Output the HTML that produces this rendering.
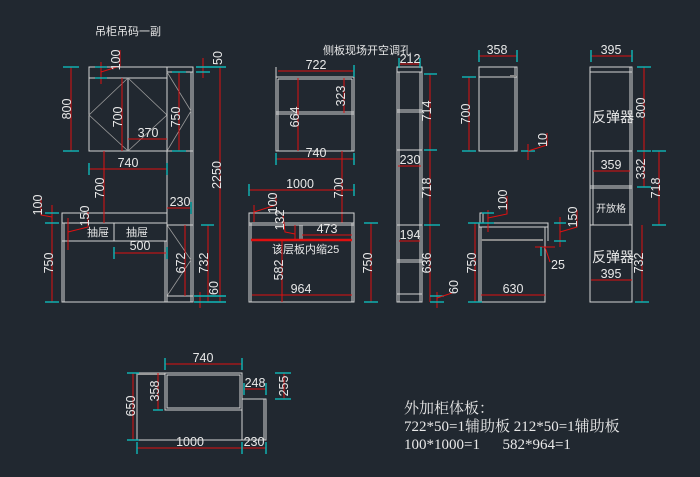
<!DOCTYPE html>
<html><head><meta charset="utf-8"><style>
html,body{margin:0;padding:0;background:#212830;}
svg{display:block}
text{font-family:"Liberation Sans","Noto Sans CJK SC",sans-serif;fill:#e8e8e8;}
.w{stroke:#d4d4d4;stroke-width:1;fill:none}
.g{stroke:#9a9a9a;stroke-width:0.8;fill:none}
.r{stroke:#e01010;stroke-width:1;fill:none}
.c{stroke:#10b8b8;stroke-width:1.4;fill:none}
.n{font-size:12.5px}
.s{font-size:11px}
</style></head><body>
<svg width="700" height="477" viewBox="0 0 700 477" xmlns="http://www.w3.org/2000/svg">
<text x="95" y="35" class="s" fill="#ddd">吊柜吊码一副</text>
<text x="323" y="54" class="s">侧板现场开空调孔</text>

<!-- PANEL 1 -->
<rect x="89" y="67" width="78" height="84" class="w"/>
<line x1="89" y1="78" x2="167" y2="78" class="w"/>
<line x1="128" y1="78" x2="128" y2="151" class="w"/>
<polyline points="128,78 89,115 128,151" class="g"/>
<polyline points="128,78 167,115 128,151" class="g"/>
<rect x="167" y="67" width="26" height="235" class="w"/>
<line x1="191" y1="72" x2="191" y2="302" class="w"/>
<line x1="167" y1="72" x2="193" y2="72" class="w"/>
<polyline points="167,72 191,111 167,151" class="g"/>
<line x1="167" y1="151" x2="193" y2="151" class="w"/>
<line x1="167" y1="225" x2="193" y2="225" class="w"/>
<line x1="167" y1="296" x2="193" y2="296" class="w"/>
<polyline points="167,225 191,260 167,296" class="g"/>
<rect x="62" y="213" width="105" height="89" class="w"/>
<line x1="64" y1="223" x2="64" y2="302" class="w"/>
<line x1="62" y1="223" x2="167" y2="223" class="w"/>
<line x1="62" y1="241" x2="167" y2="241" class="w"/>
<line x1="114" y1="223" x2="114" y2="241" class="w"/>
<line x1="165" y1="241" x2="165" y2="302" class="w"/>
<text x="87" y="236" class="s">抽屉</text>
<text x="126" y="236" class="s">抽屉</text>
<!-- dims p1 -->
<line x1="71" y1="67" x2="71" y2="151" class="r"/><line x1="63" y1="67" x2="79" y2="67" class="c"/><line x1="63" y1="151" x2="79" y2="151" class="c"/>
<text class="n" text-anchor="middle" transform="translate(71,109) rotate(-90)">800</text>
<line x1="101" y1="62" x2="101" y2="84" class="r"/><line x1="95" y1="67" x2="107" y2="67" class="c"/><line x1="95" y1="78" x2="107" y2="78" class="c"/>
<polyline points="101,72 120,66 120,50" class="r"/>
<text class="n" text-anchor="middle" transform="translate(120,60) rotate(-90)">100</text>
<line x1="122" y1="78" x2="122" y2="151" class="r"/>
<text class="n" text-anchor="middle" transform="translate(122,117) rotate(-90)">700</text>
<line x1="179" y1="72" x2="179" y2="151" class="r"/><line x1="172" y1="72" x2="186" y2="72" class="c"/><line x1="172" y1="151" x2="186" y2="151" class="c"/>
<text class="n" text-anchor="middle" transform="translate(180,117) rotate(-90)">750</text>
<line x1="128" y1="139" x2="167" y2="139" class="r"/>
<text x="148" y="137" class="n" text-anchor="middle">370</text>
<line x1="89" y1="169" x2="167" y2="169" class="r"/><line x1="89" y1="163" x2="89" y2="175" class="c"/><line x1="167" y1="163" x2="167" y2="175" class="c"/>
<text x="128" y="167" class="n" text-anchor="middle">740</text>
<line x1="104" y1="151" x2="104" y2="223" class="r"/>
<text class="n" text-anchor="middle" transform="translate(104,188) rotate(-90)">700</text>
<line x1="220" y1="67" x2="220" y2="302" class="r"/>
<text class="n" text-anchor="middle" transform="translate(221,175) rotate(-90)">2250</text>
<line x1="203" y1="58" x2="203" y2="78" class="r"/><line x1="196" y1="67" x2="226" y2="67" class="c"/><line x1="196" y1="72" x2="210" y2="72" class="c"/>
<text class="n" text-anchor="middle" transform="translate(222,58) rotate(-90)">50</text>
<line x1="167" y1="208" x2="191" y2="208" class="r"/><line x1="191" y1="202" x2="191" y2="214" class="c"/>
<text x="180" y="206" class="n" text-anchor="middle">230</text>
<line x1="52" y1="205" x2="52" y2="302" class="r"/><line x1="45" y1="213" x2="59" y2="213" class="c"/><line x1="45" y1="223" x2="59" y2="223" class="c"/><line x1="45" y1="302" x2="59" y2="302" class="c"/>
<polyline points="52,217 41,215 41,198" class="r"/>
<text class="n" text-anchor="middle" transform="translate(42,205) rotate(-90)">100</text>
<text class="n" text-anchor="middle" transform="translate(53,263) rotate(-90)">750</text>
<line x1="68" y1="218" x2="68" y2="250" class="r"/><polyline points="68,232 88,227 88,212" class="r"/>
<text class="n" text-anchor="middle" transform="translate(89,216) rotate(-90)">150</text>
<line x1="114" y1="253" x2="167" y2="253" class="r"/><line x1="114" y1="247" x2="114" y2="259" class="c"/><line x1="167" y1="247" x2="167" y2="259" class="c"/>
<text x="140" y="250" class="n" text-anchor="middle">500</text>
<line x1="185" y1="225" x2="185" y2="296" class="r"/>
<text class="n" text-anchor="middle" transform="translate(185,263) rotate(-90)">672</text>
<line x1="208" y1="225" x2="208" y2="302" class="r"/><line x1="201" y1="225" x2="214" y2="225" class="c"/>
<text class="n" text-anchor="middle" transform="translate(208,263) rotate(-90)">732</text>
<line x1="200" y1="292" x2="200" y2="308" class="r"/><line x1="194" y1="296" x2="226" y2="296" class="c"/><line x1="194" y1="302" x2="226" y2="302" class="c"/>
<text class="n" text-anchor="middle" transform="translate(218,288) rotate(-90)">60</text>

<!-- PANEL 2 -->
<rect x="276" y="77" width="78" height="74" class="w"/>
<line x1="278" y1="79" x2="352" y2="79" class="w"/>
<line x1="278" y1="79" x2="278" y2="151" class="w"/>
<line x1="352" y1="79" x2="352" y2="151" class="w"/>
<line x1="276" y1="112" x2="354" y2="112" class="w"/><line x1="276" y1="114" x2="354" y2="114" class="w"/>
<line x1="276" y1="67" x2="276" y2="77" class="w"/>
<line x1="278" y1="71" x2="354" y2="71" class="r"/><line x1="354" y1="65" x2="354" y2="77" class="c"/>
<text x="316" y="69" class="n" text-anchor="middle">722</text>
<line x1="344" y1="78" x2="344" y2="113" class="r"/>
<text class="n" text-anchor="middle" transform="translate(345,96) rotate(-90)">323</text>
<line x1="298" y1="78" x2="298" y2="151" class="r"/>
<text class="n" text-anchor="middle" transform="translate(299,117) rotate(-90)">664</text>
<line x1="276" y1="159" x2="354" y2="159" class="r"/><line x1="276" y1="153" x2="276" y2="165" class="c"/><line x1="354" y1="153" x2="354" y2="165" class="c"/>
<text x="316" y="157" class="n" text-anchor="middle">740</text>
<line x1="342" y1="151" x2="342" y2="223" class="r"/>
<text class="n" text-anchor="middle" transform="translate(343,188) rotate(-90)">700</text>
<line x1="249" y1="190" x2="354" y2="190" class="r"/><line x1="249" y1="184" x2="249" y2="196" class="c"/><line x1="354" y1="184" x2="354" y2="196" class="c"/>
<text x="300" y="188" class="n" text-anchor="middle">1000</text>
<rect x="249" y="213" width="105" height="89" class="w"/>
<line x1="251" y1="223" x2="251" y2="302" class="w"/><line x1="352" y1="223" x2="352" y2="302" class="w"/>
<line x1="249" y1="223" x2="354" y2="223" class="w"/><line x1="249" y1="225" x2="354" y2="225" class="w"/>
<line x1="300" y1="225" x2="300" y2="240" class="w"/><line x1="302" y1="225" x2="302" y2="240" class="w"/>
<line x1="251" y1="240" x2="352" y2="240" stroke="#e01010" stroke-width="2.5"/>
<line x1="302" y1="235" x2="352" y2="235" class="r"/>
<text x="327" y="233" class="n" text-anchor="middle">473</text>
<polyline points="254,205 254,222" class="r"/><polyline points="254,212 276,205 276,194" class="r"/>
<text class="n" text-anchor="middle" transform="translate(277,203) rotate(-90)">100</text>
<line x1="295" y1="225" x2="295" y2="240" class="r"/><polyline points="295,234 285,232 283,215" class="r"/>
<text class="n" text-anchor="middle" transform="translate(284,220) rotate(-90)">132</text>
<text x="272" y="253" class="s">该层板内缩25</text>
<line x1="282" y1="240" x2="282" y2="302" class="r"/>
<text class="n" text-anchor="middle" transform="translate(283,270) rotate(-90)">582</text>
<line x1="252" y1="295" x2="352" y2="295" class="r"/>
<text x="301" y="293" class="n" text-anchor="middle">964</text>
<line x1="371" y1="223" x2="371" y2="302" class="r"/><line x1="364" y1="223" x2="378" y2="223" class="c"/><line x1="364" y1="302" x2="378" y2="302" class="c"/>
<text class="n" text-anchor="middle" transform="translate(372,263) rotate(-90)">750</text>
<!-- tall narrow -->
<rect x="397" y="67" width="25" height="235" class="w"/>
<line x1="399" y1="72" x2="399" y2="302" class="w"/><line x1="420" y1="72" x2="420" y2="302" class="w"/>
<line x1="397" y1="72" x2="422" y2="72" class="w"/>
<line x1="397" y1="110" x2="422" y2="110" class="w"/><line x1="397" y1="112" x2="422" y2="112" class="w"/>
<line x1="397" y1="150" x2="422" y2="150" class="w"/>
<line x1="397" y1="225" x2="422" y2="225" class="w"/>
<line x1="397" y1="260" x2="422" y2="260" class="w"/><line x1="397" y1="262" x2="422" y2="262" class="w"/>
<line x1="397" y1="294" x2="422" y2="294" class="w"/>
<line x1="399" y1="64" x2="420" y2="64" class="r"/><line x1="399" y1="58" x2="399" y2="68" class="c"/><line x1="420" y1="58" x2="420" y2="68" class="c"/>
<text x="410" y="63" class="n" text-anchor="middle">212</text>
<line x1="430" y1="74" x2="430" y2="302" class="r"/><line x1="424" y1="74" x2="437" y2="74" class="c"/><line x1="424" y1="150" x2="437" y2="150" class="c"/><line x1="424" y1="225" x2="440" y2="225" class="c"/>
<text class="n" text-anchor="middle" transform="translate(431,111) rotate(-90)">714</text>
<text class="n" text-anchor="middle" transform="translate(431,188) rotate(-90)">718</text>
<text class="n" text-anchor="middle" transform="translate(431,263) rotate(-90)">636</text>
<line x1="398" y1="166" x2="421" y2="166" class="r"/>
<text x="410" y="164" class="n" text-anchor="middle">230</text>
<line x1="399" y1="241" x2="420" y2="241" class="r"/>
<text x="410" y="239" class="n" text-anchor="middle">194</text>
<line x1="437" y1="292" x2="437" y2="308" class="r"/><line x1="430" y1="296" x2="444" y2="296" class="c"/><line x1="430" y1="302" x2="444" y2="302" class="c"/><line x1="437" y1="298" x2="452" y2="293" class="r"/>
<text class="n" text-anchor="middle" transform="translate(458,287) rotate(-90)">60</text>

<!-- PANEL 3 -->
<rect x="479" y="67" width="38" height="84" class="w"/>
<line x1="479" y1="77" x2="517" y2="77" class="w"/>
<line x1="515" y1="67" x2="515" y2="151" class="w"/>
<rect x="510" y="75" width="6" height="2" fill="#888"/>
<line x1="479" y1="56" x2="517" y2="56" class="r"/><line x1="479" y1="50" x2="479" y2="62" class="c"/><line x1="517" y1="50" x2="517" y2="62" class="c"/>
<text x="497" y="54" class="n" text-anchor="middle">358</text>
<line x1="469" y1="77" x2="469" y2="151" class="r"/><line x1="462" y1="77" x2="476" y2="77" class="c"/><line x1="462" y1="151" x2="476" y2="151" class="c"/>
<text class="n" text-anchor="middle" transform="translate(470,114) rotate(-90)">700</text>
<line x1="528" y1="144" x2="528" y2="160" class="r"/><line x1="521" y1="151" x2="535" y2="151" class="c"/><polyline points="528,151 547,145 547,133" class="r"/>
<text class="n" text-anchor="middle" transform="translate(547,140) rotate(-90)">10</text>
<polyline points="480,223 480,213 483,213 483,223" class="w"/>
<rect x="479" y="223" width="69" height="4" class="w"/>
<line x1="545" y1="227" x2="545" y2="241" class="w"/><line x1="548" y1="227" x2="548" y2="241" class="w"/>
<line x1="481" y1="227" x2="481" y2="302" class="w"/>
<polyline points="479,227 479,302 545,302 545,241" class="w"/>
<rect x="481" y="239" width="62" height="2" fill="#888"/>
<line x1="488" y1="210" x2="488" y2="232" class="r"/><line x1="482" y1="213" x2="494" y2="213" class="c"/><line x1="482" y1="223" x2="494" y2="223" class="c"/><polyline points="488,218 507,214 507,196" class="r"/>
<text class="n" text-anchor="middle" transform="translate(507,200) rotate(-90)">100</text>
<line x1="560" y1="217" x2="560" y2="247" class="r"/><line x1="554" y1="223" x2="566" y2="223" class="c"/><line x1="554" y1="241" x2="566" y2="241" class="c"/><polyline points="560,232 577,227 577,210" class="r"/>
<text class="n" text-anchor="middle" transform="translate(577,217) rotate(-90)">150</text>
<line x1="535" y1="247" x2="555" y2="247" class="r"/><line x1="545" y1="247" x2="550" y2="262" class="r"/><line x1="541" y1="247" x2="541" y2="256" class="c"/>
<text x="551" y="269" class="n">25</text>
<line x1="475" y1="223" x2="475" y2="302" class="r"/><line x1="468" y1="223" x2="482" y2="223" class="c"/><line x1="468" y1="302" x2="482" y2="302" class="c"/>
<text class="n" text-anchor="middle" transform="translate(476,263) rotate(-90)">750</text>
<line x1="481" y1="295" x2="545" y2="295" class="r"/>
<text x="513" y="293" class="n" text-anchor="middle">630</text>
<!-- tall 395 -->
<rect x="590" y="67" width="42" height="235" class="w"/>
<line x1="590" y1="72" x2="632" y2="72" class="w"/>
<line x1="630" y1="67" x2="630" y2="151" class="w"/>
<line x1="590" y1="151" x2="632" y2="151" class="w"/>
<rect x="593" y="151" width="37" height="74" class="w"/>
<line x1="590" y1="186" x2="632" y2="186" class="w"/><line x1="590" y1="188" x2="632" y2="188" class="w"/>
<line x1="590" y1="225" x2="632" y2="225" class="w"/>
<line x1="591" y1="56" x2="632" y2="56" class="r"/><line x1="591" y1="50" x2="591" y2="62" class="c"/><line x1="632" y1="50" x2="632" y2="62" class="c"/>
<text x="611" y="54" class="n" text-anchor="middle">395</text>
<text x="592" y="122" style="font-size:14px">反弹器</text>
<text x="592" y="262" style="font-size:14px">反弹器</text>
<text x="611" y="212" style="font-size:10px" text-anchor="middle">开放格</text>
<line x1="644" y1="67" x2="644" y2="187" class="r"/><line x1="637" y1="67" x2="651" y2="67" class="c"/><line x1="637" y1="151" x2="651" y2="151" class="c"/><line x1="637" y1="187" x2="651" y2="187" class="c"/>
<text class="n" text-anchor="middle" transform="translate(645,108) rotate(-90)">800</text>
<text class="n" text-anchor="middle" transform="translate(645,169) rotate(-90)">332</text>
<line x1="593" y1="171" x2="630" y2="171" class="r"/>
<text x="611" y="169" class="n" text-anchor="middle">359</text>
<line x1="659" y1="151" x2="659" y2="225" class="r"/><line x1="652" y1="151" x2="666" y2="151" class="c"/><line x1="652" y1="225" x2="666" y2="225" class="c"/>
<text class="n" text-anchor="middle" transform="translate(660,188) rotate(-90)">718</text>
<line x1="591" y1="280" x2="632" y2="280" class="r"/>
<text x="611" y="278" class="n" text-anchor="middle">395</text>
<line x1="642" y1="225" x2="642" y2="302" class="r"/><line x1="635" y1="302" x2="649" y2="302" class="c"/>
<text class="n" text-anchor="middle" transform="translate(643,263) rotate(-90)">732</text>

<!-- BOTTOM PLAN -->
<rect x="137" y="373" width="105" height="67" class="w"/>
<rect x="137" y="373" width="28" height="2" fill="#999"/>
<rect x="165" y="373" width="77" height="37" class="w"/>
<rect x="167" y="375" width="73" height="33" class="w"/>
<rect x="242" y="399" width="24" height="41" class="w"/>
<line x1="264" y1="399" x2="264" y2="440" class="w"/>
<line x1="165" y1="364" x2="242" y2="364" class="r"/><line x1="165" y1="358" x2="165" y2="370" class="c"/><line x1="242" y1="358" x2="242" y2="370" class="c"/>
<text x="203" y="362" class="n" text-anchor="middle">740</text>
<line x1="158" y1="373" x2="158" y2="410" class="r"/><line x1="153" y1="410" x2="163" y2="410" class="c"/>
<text class="n" text-anchor="middle" transform="translate(159,391) rotate(-90)">358</text>
<line x1="133" y1="373" x2="133" y2="440" class="r"/><line x1="127" y1="373" x2="139" y2="373" class="c"/><line x1="127" y1="440" x2="139" y2="440" class="c"/>
<text class="n" text-anchor="middle" transform="translate(135,406) rotate(-90)">650</text>
<line x1="244" y1="389" x2="266" y2="389" class="r"/><line x1="244" y1="383" x2="244" y2="395" class="c"/><line x1="266" y1="383" x2="266" y2="395" class="c"/>
<text x="255" y="387" class="n" text-anchor="middle">248</text>
<line x1="284" y1="373" x2="284" y2="399" class="r"/><line x1="275" y1="373" x2="291" y2="373" class="c"/><line x1="275" y1="399" x2="291" y2="399" class="c"/>
<text class="n" text-anchor="middle" transform="translate(288,386) rotate(-90)">255</text>
<line x1="137" y1="448" x2="266" y2="448" class="r"/><line x1="137" y1="442" x2="137" y2="454" class="c"/><line x1="242" y1="442" x2="242" y2="454" class="c"/><line x1="266" y1="442" x2="266" y2="454" class="c"/>
<text x="190" y="446" class="n" text-anchor="middle">1000</text>
<text x="254" y="446" class="n" text-anchor="middle">230</text>

<g style="font-family:'Liberation Serif','Noto Serif CJK SC',serif;font-size:15px" fill="#e8e8e8">
<text x="404" y="413" style="font-family:'Liberation Serif','Noto Serif CJK SC',serif">外加柜体板：</text>
<text x="404" y="431" style="font-family:'Liberation Serif','Noto Serif CJK SC',serif">722*50=1辅助板  212*50=1辅助板</text>
<text x="404" y="449" style="font-family:'Liberation Serif','Noto Serif CJK SC',serif" xml:space="preserve">100*1000=1      582*964=1</text>
</g>
</svg>
</body></html>
